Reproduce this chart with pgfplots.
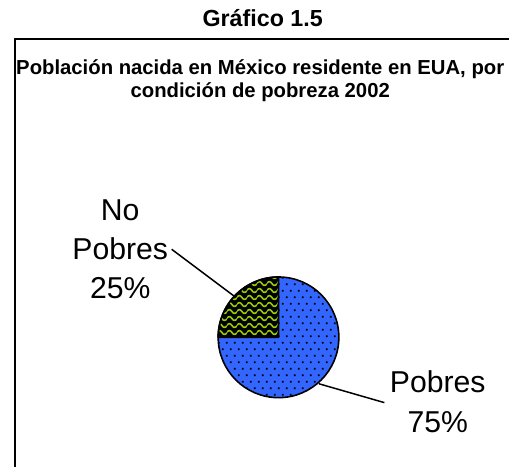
\documentclass[border=0pt]{standalone}
\usepackage{fontspec}
\setmainfont{Liberation Sans}
\usepackage{pgfplots}
\pgfplotsset{compat=1.18}
\usepackage{pgfplotstable}
\usetikzlibrary{patterns}

\definecolor{pobreblue}{RGB}{51,102,255}
\definecolor{nopobregreen}{RGB}{153,204,0}

% dotted fill of the Pobres slice
\pgfdeclarepatternformonly{mydots}{\pgfqpoint{0pt}{0pt}}{\pgfqpoint{8pt}{13pt}}{\pgfqpoint{8pt}{13pt}}{
  \pgfpathrectangle{\pgfqpoint{1pt}{1pt}}{\pgfqpoint{1.7pt}{1.7pt}}
  \pgfpathrectangle{\pgfqpoint{5pt}{7.5pt}}{\pgfqpoint{1.7pt}{1.7pt}}
  \pgfusepath{fill}
}
% wavy lines of the No Pobres slice
\pgfdeclarepatternformonly{mywaves}{\pgfqpoint{0pt}{0pt}}{\pgfqpoint{10pt}{7pt}}{\pgfqpoint{10pt}{7pt}}{
  \pgfsetlinewidth{1.6pt}
  \pgfpathmoveto{\pgfqpoint{-0.5pt}{3.5pt}}
  \pgfpathcurveto{\pgfqpoint{1.67pt}{6pt}}{\pgfqpoint{3.33pt}{6pt}}{\pgfqpoint{5pt}{3.5pt}}
  \pgfpathcurveto{\pgfqpoint{6.67pt}{1pt}}{\pgfqpoint{8.33pt}{1pt}}{\pgfqpoint{10.5pt}{3.5pt}}
  \pgfusepath{stroke}
}

\pgfplotstableread{
label value
NoPobres 25
Pobres 75
}\pobreza

\begin{document}
\pgfplotstablegetelem{0}{value}\of\pobreza \let\vNo\pgfplotsretval
\pgfplotstablegetelem{1}{value}\of\pobreza \let\vSi\pgfplotsretval
\pgfmathsetmacro\aA{90+3.6*\vNo}
\pgfmathsetmacro\aB{\aA+3.6*\vSi}
\begin{tikzpicture}
% y runs upward: y = 472 - pixel row
\begin{axis}[
    hide axis,
    scale only axis,
    width=509pt, height=472pt,
    xmin=0, xmax=509, ymin=0, ymax=472,
    clip=false,
]
\addplot[draw=none] coordinates {(0,0) (509,472)};
\coordinate (bl) at (axis cs:0,0);
\coordinate (tr) at (axis cs:509,472);

% frame
\draw[line width=1.8pt] (axis cs:10,0) -- (axis cs:10,432.5) -- (axis cs:509,432.5);

% titles
\node[anchor=base, font=\bfseries\fontsize{23.5}{28}\selectfont] at (axis cs:260,445) {Gráfico 1.5};
\node[anchor=base, font=\bfseries\fontsize{20.5}{24}\selectfont] at (axis cs:257.5,397) {Población nacida en México residente en EUA, por};
\node[anchor=base, font=\bfseries\fontsize{20.5}{24}\selectfont] at (axis cs:257.5,373) {condición de pobreza 2002};

% pie: No Pobres
\fill[black] (axis cs:276,131) -- ++(90:61) arc[start angle=90, end angle=\aA, radius=61] -- cycle;
\fill[pattern=mywaves, pattern color=nopobregreen] (axis cs:276,131) -- ++(90:61) arc[start angle=90, end angle=\aA, radius=61] -- cycle;
% pie: Pobres
\fill[pobreblue] (axis cs:276,131) -- ++(\aA:61) arc[start angle=\aA, end angle=\aB, radius=61] -- cycle;
\fill[pattern=mydots, pattern color=black] (axis cs:276,131) -- ++(\aA:61) arc[start angle=\aA, end angle=\aB, radius=61] -- cycle;
\draw[line width=1.6pt, line join=round] (axis cs:276,131) -- ++(90:61) arc[start angle=90, end angle=\aA, radius=61] -- cycle;
\draw[line width=1.6pt, line join=round] (axis cs:276,131) circle[radius=61];

% leader lines
\draw[line width=1.5pt] (axis cs:168,220) -- (axis cs:232,172);
\draw[line width=1.5pt] (axis cs:317,84) -- (axis cs:383,65);

% labels
\node[anchor=base, font=\fontsize{30.5}{36}\selectfont] at (axis cs:116,249) {No};
\node[anchor=base, font=\fontsize{30.5}{36}\selectfont] at (axis cs:116,210) {Pobres};
\node[anchor=base, font=\fontsize{30.5}{36}\selectfont] at (axis cs:116,170) {25\%};
\node[anchor=base, font=\fontsize{30.5}{36}\selectfont] at (axis cs:437,75) {Pobres};
\node[anchor=base, font=\fontsize{30.5}{36}\selectfont] at (axis cs:437,35) {75\%};
\end{axis}
\pgfresetboundingbox
\path[use as bounding box] (bl) rectangle (tr);
\end{tikzpicture}
\end{document}
